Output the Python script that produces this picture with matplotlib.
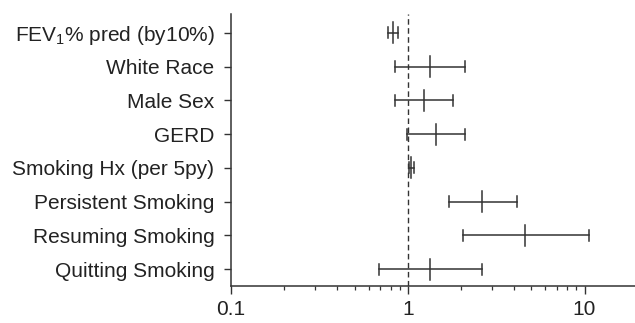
import matplotlib
matplotlib.use("Agg")
import matplotlib.pyplot as plt
from matplotlib.ticker import LogLocator, NullFormatter, FixedLocator, FixedFormatter

plt.rcParams['font.family'] = ['Liberation Sans', 'DejaVu Sans']
plt.rcParams['mathtext.fontset'] = 'custom'
plt.rcParams['mathtext.rm'] = 'Liberation Sans'
plt.rcParams['mathtext.it'] = 'Liberation Sans:italic'
plt.rcParams['mathtext.bf'] = 'Liberation Sans:bold'

labels = ["FEV$_\\mathrm{1}$% pred (by10%)", "White Race", "Male Sex", "GERD",
          "Smoking Hx (per 5py)", "Persistent Smoking", "Resuming Smoking",
          "Quitting Smoking"]
estimate = [0.82, 1.34, 1.24, 1.45, 1.04, 2.63, 4.61, 1.34]
lower = [0.77, 0.85, 0.85, 0.99, 1.01, 1.70, 2.05, 0.685]
upper = [0.88, 2.12, 1.80, 2.11, 1.08, 4.14, 10.6, 2.63]

col = '#333333'

fig = plt.figure(figsize=(6.35, 3.23), dpi=100)
ax = fig.add_axes([0.3638, 0.1146, 0.6362, 0.8421])

ys = list(range(len(labels)))
for y, e, lo, hi in zip(ys, estimate, lower, upper):
    ax.plot([lo, hi], [y, y], color=col, lw=1.1)
    ax.plot([lo, lo], [y - 0.16, y + 0.16], color=col, lw=1.1)
    ax.plot([hi, hi], [y - 0.16, y + 0.16], color=col, lw=1.1)
    ax.plot([e, e], [y - 0.31, y + 0.31], color=col, lw=1.1)

ax.axvline(1, color=col, lw=1.0, ls=(0, (4, 2.5)))

ax.set_xscale('log')
ax.set_xlim(0.1, 19.3)
ax.set_ylim(7.5, -0.56)

ax.xaxis.set_major_locator(FixedLocator([0.1, 1, 10]))
ax.xaxis.set_major_formatter(FixedFormatter(['0.1', '1', '10']))
ax.xaxis.set_minor_locator(LogLocator(base=10, subs=range(2, 10)))
ax.xaxis.set_minor_formatter(NullFormatter())

ax.set_yticks(ys)
ax.set_yticklabels(labels)

for s in ['top', 'right']:
    ax.spines[s].set_visible(False)
for s in ['left', 'bottom']:
    ax.spines[s].set_color(col)
    ax.spines[s].set_linewidth(1.1)

ax.tick_params(axis='y', which='major', length=5, width=1.0, color=col,
               labelsize=15, labelcolor='#222222', pad=7)
ax.tick_params(axis='x', which='major', length=6, width=1.0, color=col,
               labelsize=15, labelcolor='#222222', pad=4)
ax.tick_params(axis='x', which='minor', length=3, width=0.9, color=col)

fig.savefig('out.png', dpi=100)
